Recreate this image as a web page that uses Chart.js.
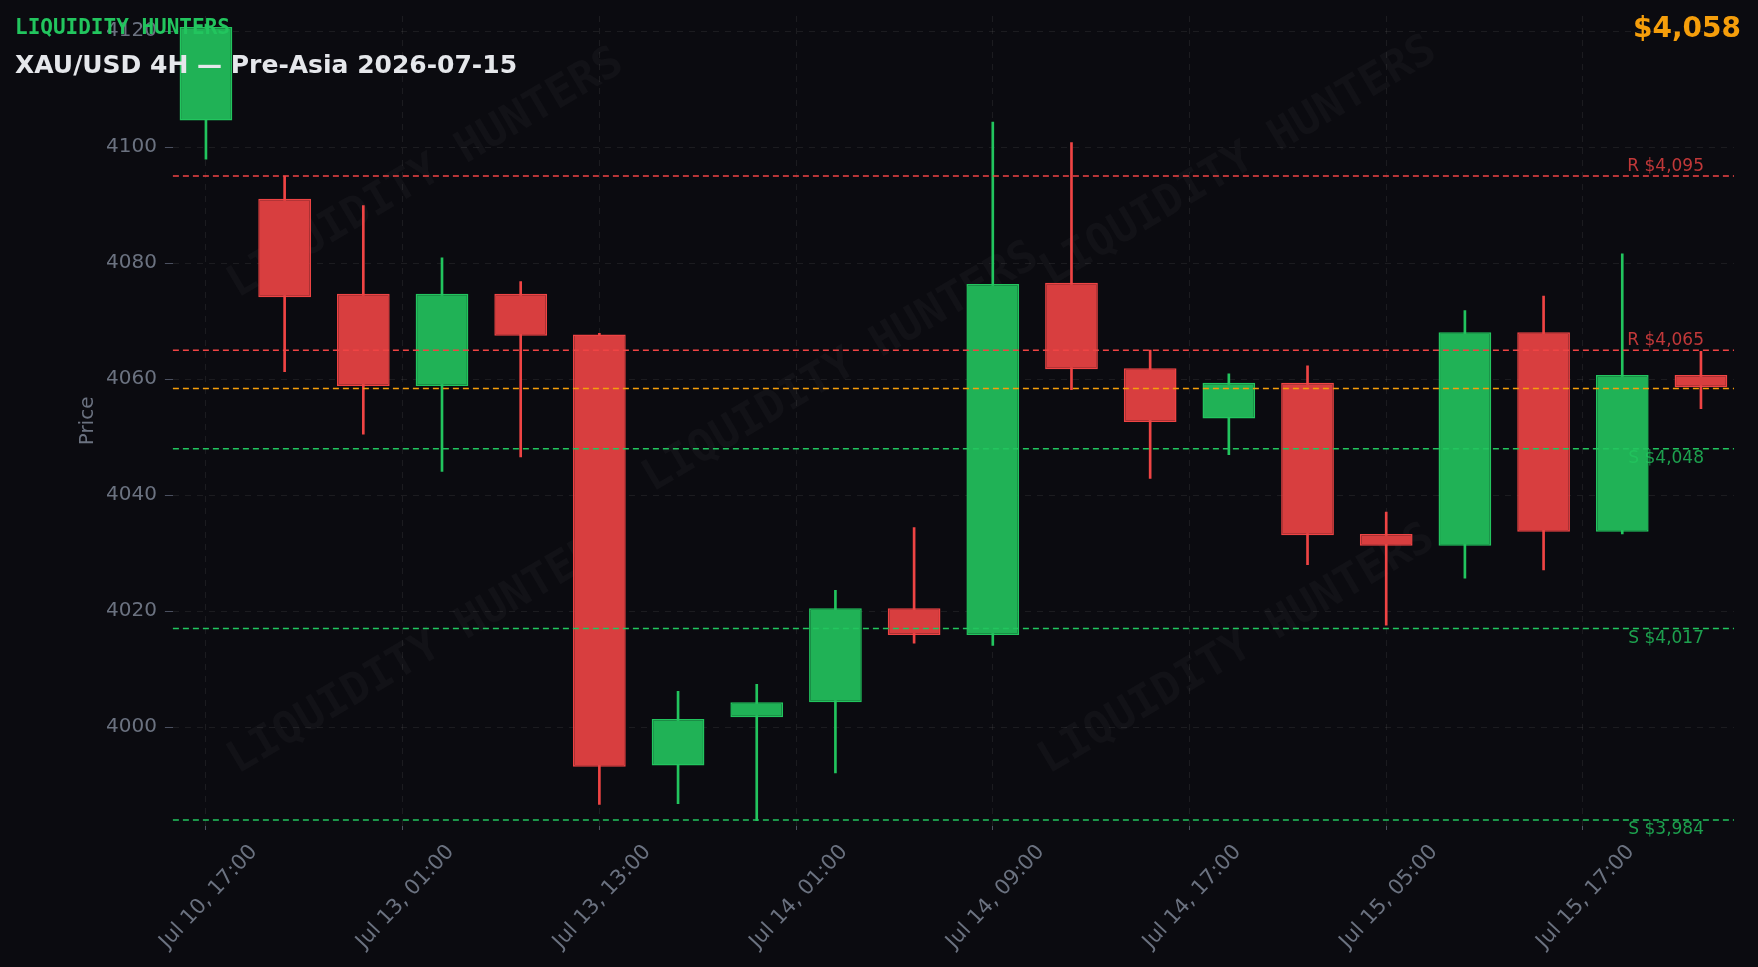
<!DOCTYPE html>
<html>
<head>
<meta charset="utf-8">
<title>XAU/USD 4H</title>
<script src="https://cdn.jsdelivr.net/npm/chart.js@4.4.1/dist/chart.umd.min.js"></script>
<style>
  html, body { margin: 0; padding: 0; background: #0b0b10; overflow: hidden; }
  #wrap { width: 1758px; height: 967px; }
</style>
</head>
<body>
<div id="wrap"><canvas id="priceChart" width="1758" height="967"></canvas></div>
<script>
//////////////////////////////
// XAU/USD 4H candles
//////////////////////////////

const opens  = [4104.6, 4091.1, 4074.7, 4058.8, 4074.7, 4067.7, 3993.4, 4001.7, 4004.3, 4020.5,
                4015.9, 4076.6, 4061.9, 4053.2, 4059.4, 4033.3, 4031.3, 4068.1, 4033.7, 4060.7];
const highs  = [4121.2, 4095.0, 4089.9, 4080.9, 4076.8, 4067.9, 4006.2, 4007.4, 4023.6, 4034.4,
                4104.3, 4100.8, 4065.0, 4060.9, 4062.3, 4037.1, 4071.8, 4074.3, 4081.6, 4064.8];
const lows   = [4097.9, 4061.3, 4050.5, 4044.1, 4046.6, 3986.7, 3986.8, 3983.9, 3992.1, 4014.5,
                4014.1, 4058.2, 4042.9, 4047.0, 4028.0, 4017.6, 4025.7, 4027.1, 4033.3, 4054.9];
const closes = [4120.7, 4074.1, 4058.8, 4074.7, 4067.5, 3993.2, 4001.4, 4004.3, 4020.5, 4015.9,
                4076.4, 4061.7, 4052.6, 4059.4, 4033.1, 4031.3, 4068.1, 4033.7, 4060.7, 4058.6];

const levelPrices = [4095, 4065, 4048, 4017, 3984];
const levelKinds  = ["R", "R", "S", "S", "S"];
const lastPrice   = 4058.4;

const xTickValues = [0, 2.5, 5, 7.5, 10, 12.5, 15, 17.5];
const xTickLabels = ["Jul 10, 17:00", "Jul 13, 01:00", "Jul 13, 13:00", "Jul 14, 01:00",
                     "Jul 14, 09:00", "Jul 14, 17:00", "Jul 15, 05:00", "Jul 15, 17:00"];
const yTickValues = [4000, 4020, 4040, 4060, 4080, 4100, 4120];

const colors = {
  bg: "#0b0b10",
  up: "#22c55e",
  down: "#ef4444",
  upFill: "#20b256",   // solid so the wick does not show through
  downFill: "#d83e3f",
  last: "#f59e0b",
  grid: "rgba(255, 255, 255, 0.07)",
  tick: "#6b7280",
  title: "#e5e7eb"
};

const isUp = opens.map((o, i) => closes[i] >= o);
const fmt = (v) => "$" + Math.round(v).toLocaleString("en-US");

// background
const bgPlugin = {
  id: "bg",
  beforeDraw(chart) {
    const ctx = chart.ctx;
    ctx.save();
    ctx.fillStyle = colors.bg;
    ctx.fillRect(0, 0, chart.width, chart.height);
    ctx.restore();
  }
};

// faint diagonal brand marks behind the candles
const watermarkPlugin = {
  id: "watermark",
  beforeDatasetsDraw(chart) {
    const ctx = chart.ctx;
    const spots = [[426, 174], [1239, 162], [841, 368], [426, 650], [1237, 650]];
    ctx.save();
    ctx.font = "bold 44px 'DejaVu Sans Mono'";
    ctx.fillStyle = "rgba(255, 255, 255, 0.032)";
    ctx.textAlign = "center";
    ctx.textBaseline = "middle";
    spots.forEach(([x, y]) => {
      ctx.save();
      ctx.translate(x, y);
      ctx.rotate(-30.5 * Math.PI / 180);
      ctx.fillText("LIQUIDITY HUNTERS", 0, 0);
      ctx.restore();
    });
    ctx.restore();
  }
};

// support / resistance and last price lines
const levelsPlugin = {
  id: "levels",
  afterDatasetsDraw(chart) {
    const { ctx, chartArea, scales } = chart;
    const y = scales.y;
    ctx.save();
    ctx.lineWidth = 1.5;
    ctx.setLineDash([6, 4]);

    levelPrices.forEach((p, i) => {
      const py = y.getPixelForValue(p);
      ctx.strokeStyle = levelKinds[i] === "R" ? colors.down : colors.up;
      ctx.beginPath();
      ctx.moveTo(chartArea.left, py);
      ctx.lineTo(chartArea.right, py);
      ctx.stroke();
    });

    const ly = y.getPixelForValue(lastPrice);
    ctx.strokeStyle = colors.last;
    ctx.beginPath();
    ctx.moveTo(chartArea.left, ly);
    ctx.lineTo(chartArea.right, ly);
    ctx.stroke();

    ctx.setLineDash([]);
    ctx.font = "17px 'DejaVu Sans'";
    ctx.textAlign = "right";
    levelPrices.forEach((p, i) => {
      const py = y.getPixelForValue(p);
      const r = levelKinds[i] === "R";
      ctx.fillStyle = r ? "rgba(239, 68, 68, 0.8)" : "rgba(34, 197, 94, 0.8)";
      ctx.textBaseline = r ? "bottom" : "top";
      ctx.fillText(levelKinds[i] + " " + fmt(p), chartArea.right - 30, r ? py - 1 : py + 1);
    });
    ctx.restore();
  }
};

// headline texts on top of everything
const headerPlugin = {
  id: "header",
  afterDraw(chart) {
    const ctx = chart.ctx;
    ctx.save();
    ctx.textBaseline = "alphabetic";
    ctx.textAlign = "left";
    ctx.fillStyle = colors.up;
    ctx.font = "bold 21px 'DejaVu Sans Mono'";
    ctx.fillText("LIQUIDITY HUNTERS", 15, 34);
    ctx.fillStyle = colors.title;
    ctx.font = "bold 25px 'DejaVu Sans'";
    ctx.fillText("XAU/USD 4H \u2014 Pre-Asia 2026-07-15", 15, 73);
    ctx.textAlign = "right";
    ctx.fillStyle = colors.last;
    ctx.font = "bold 28px 'DejaVu Sans'";
    ctx.fillText(fmt(lastPrice), 1741, 37);
    ctx.restore();
  }
};

const wickData = lows.map((l, i) => ({ x: i, y: [l, highs[i]] }));
const bodyData = opens.map((o, i) => ({ x: i, y: [o, closes[i]] }));

const ctx = document.getElementById("priceChart").getContext("2d");

window.priceChart = new Chart(ctx, {
  type: "bar",
  data: {
    datasets: [
      {
        label: "Body",
        data: bodyData,
        backgroundColor: isUp.map(u => u ? colors.upFill : colors.downFill),
        borderColor: isUp.map(u => u ? colors.up : colors.down),
        borderWidth: 1.5,
        borderSkipped: false,
        barPercentage: 0.67,
        categoryPercentage: 1,
        grouped: false,
        order: 1
      },
      {
        label: "Wick",
        data: wickData,
        backgroundColor: isUp.map(u => u ? colors.up : colors.down),
        barThickness: 2,
        grouped: false,
        order: 2
      }
    ]
  },
  options: {
    responsive: false,
    animation: false,
    layout: {
      padding: { left: 78, right: 24, top: 16, bottom: 6 }
    },
    plugins: {
      legend: { display: false },
      tooltip: { enabled: false },
      title: { display: false }
    },
    scales: {
      x: {
        type: "linear",
        min: -0.42,
        max: 19.42,
        offset: false,
        afterBuildTicks: (scale) => {
          scale.ticks = xTickValues.map(v => ({ value: v }));
        },
        grid: {
          color: colors.grid,
          offset: false,
          tickColor: "#4b5060",
          tickLength: 7,
          tickBorderDash: [4, 3]
        },
        border: { display: false, dash: [6, 6] },
        ticks: {
          color: colors.tick,
          font: { family: "DejaVu Sans", size: 21 },
          minRotation: 47,
          maxRotation: 47,
          labelOffset: 48,
          padding: 7,
          autoSkip: false,
          callback: (v) => {
            const k = xTickValues.indexOf(v);
            return k >= 0 ? xTickLabels[k] : "";
          }
        }
      },
      y: {
        min: 3983,
        max: 4122.6,
        afterBuildTicks: (scale) => {
          scale.ticks = yTickValues.map(v => ({ value: v }));
        },
        grid: {
          color: colors.grid,
          tickColor: "#4b5060",
          tickLength: 8
        },
        border: { display: false, dash: [6, 6] },
        ticks: {
          color: colors.tick,
          font: { family: "DejaVu Sans", size: 20, lineHeight: 0.8 },
          padding: 8,
          callback: (v) => String(v)
        },
        title: {
          display: true,
          text: "Price",
          color: colors.tick,
          font: { family: "DejaVu Sans", size: 20, lineHeight: 1.0 },
          padding: { top: 0, bottom: 0 }
        }
      }
    }
  },
  plugins: [bgPlugin, watermarkPlugin, levelsPlugin, headerPlugin]
});
</script>
</body>
</html>
